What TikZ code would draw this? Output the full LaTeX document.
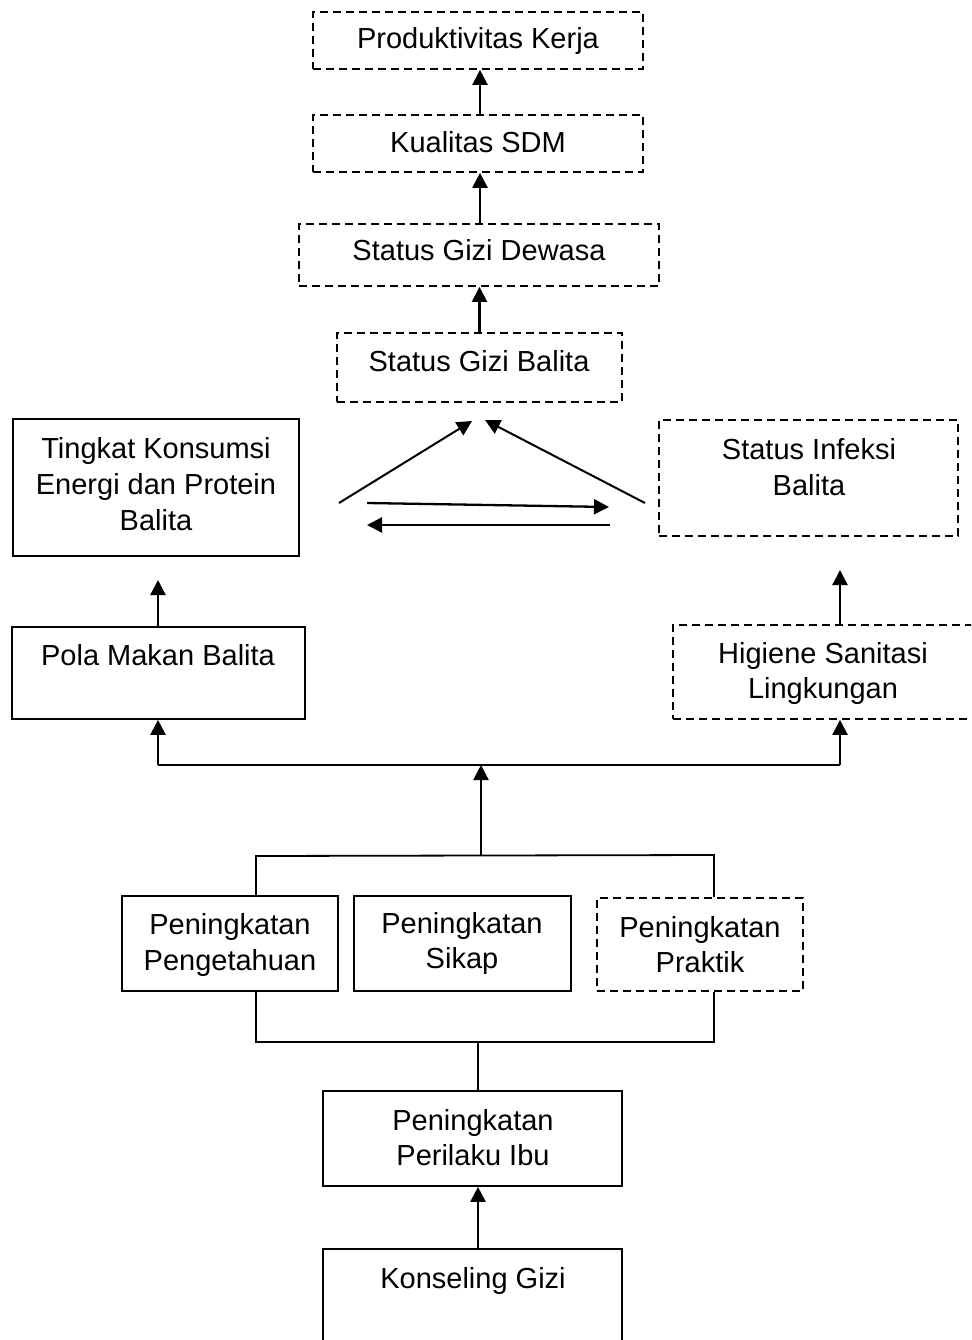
\documentclass[tikz,border=0pt]{standalone}
\usepackage{fontspec}
\setmainfont{Liberation Sans}
\usetikzlibrary{arrows.meta}
\begin{document}
\begin{tikzpicture}[x=1pt,y=-1pt,
  box/.style={draw, line width=1.7pt, rectangle, inner sep=0pt},
  dbox/.style={box, dash pattern=on 8pt off 5pt},
  txt/.style={anchor=base, align=center, inner sep=0pt, font=\fontsize{29pt}{36pt}\selectfont},
  arr/.style={line width=2.3pt, -{Triangle[length=15pt,width=15pt]}},
  ln/.style={line width=1.8pt}]
\useasboundingbox (0,0) rectangle (971,1340);
\clip (0,0) rectangle (971,1340);
% boxes
\node[dbox, minimum width=330pt, minimum height=57pt] (pk) at (478,40.5) {};
\node[dbox, minimum width=330pt, minimum height=57pt] (kq) at (478,143.5) {};
\node[dbox, minimum width=360pt, minimum height=62pt] (sgd) at (479,255) {};
\node[dbox, minimum width=285pt, minimum height=69pt] (sgb) at (479.5,367.5) {};
\node[box, minimum width=286pt, minimum height=137pt] (tk) at (156,487.5) {};
\node[dbox, minimum width=299pt, minimum height=116pt] (si) at (808.5,478) {};
\node[box, minimum width=293pt, minimum height=92pt] (pm) at (158.5,673) {};
\node[dbox, minimum width=337pt, minimum height=94pt] (hs) at (841.5,672) {};
\node[box, minimum width=216pt, minimum height=95pt] (pp) at (230,943.5) {};
\node[box, minimum width=217pt, minimum height=95pt] (ps) at (462.5,943.5) {};
\node[dbox, minimum width=206pt, minimum height=93pt] (pr) at (700,944.5) {};
\node[box, minimum width=299pt, minimum height=95pt] (pi) at (472.5,1138.5) {};
\node[box, minimum width=299pt, minimum height=111pt] (kg) at (472.5,1304.5) {};
% texts (multi-line: anchor base = last line)
\node[txt] (pkt) at (478,49) {Produktivitas Kerja};
\node[txt] (kqt) at (478,153) {Kualitas SDM};
\node[txt] (sgdt) at (479,260) {Status Gizi Dewasa};
\node[txt] (sgbt) at (479,371) {Status Gizi Balita};
\node[txt] (tkt) at (156,530) {Tingkat Konsumsi\\Energi dan Protein\\Balita};
\node[txt] (sit) at (809,495) {Status Infeksi\\Balita};
\node[txt] (pmt) at (158,665) {Pola Makan Balita};
\node[txt, font=\fontsize{29pt}{35pt}\selectfont] (hst) at (823,698) {Higiene Sanitasi\\Lingkungan};
\node[txt] (ppt) at (230,970) {Peningkatan\\Pengetahuan};
\node[txt, font=\fontsize{29pt}{35pt}\selectfont] (pst) at (462,968) {Peningkatan\\Sikap};
\node[txt, font=\fontsize{29pt}{35pt}\selectfont] (prt) at (700,972) {Peningkatan\\Praktik};
\node[txt, font=\fontsize{29pt}{35pt}\selectfont] (pit) at (473,1165) {Peningkatan\\Perilaku Ibu};
\node[txt] (kgt) at (473,1288) {Konseling Gizi};
% coordinates
\coordinate (dl1) at (339,503);
\coordinate (dl2) at (472,421);
\coordinate (dr1) at (645,503);
\coordinate (dr2) at (485,420);
\coordinate (h1) at (367,503);
\coordinate (h2) at (609,507);
\coordinate (h3) at (610,525);
\coordinate (h4) at (367,525);
\coordinate (tkin) at (158,580);
\coordinate (sin) at (840,570);
\coordinate (j) at (481,765);
\coordinate (bt) at (481,855);
\coordinate (bl) at (256,856);
\coordinate (br) at (714,855);
\coordinate (cl) at (256,1042);
\coordinate (cr) at (714,1042);
\coordinate (cm) at (478,1042);
% top chain
\draw[arr] ([xshift=2pt]kq.north) -- ([xshift=2pt]pk.south);
\draw[arr] ([xshift=1pt]sgd.north) -- ([xshift=1pt]kq.south -| sgd.north);
\draw[arr] (sgb.north) -- (sgd.south -| sgb.north);
% middle
\draw[line width=2pt, -{Triangle[length=15pt,width=15pt]}] (dl1) -- (dl2);
\draw[line width=2pt, -{Triangle[length=15pt,width=15pt]}] (dr1) -- (dr2);
\draw[arr] (h1) -- (h2);
\draw[arr] (h3) -- (h4);
\draw[arr] (pm.north -| tkin) -- (tkin);
\draw[arr] (hs.north -| sin) -- (sin);
% tree
\draw[ln] (j -| tkin) -- (j -| sin);
\draw[arr] (j -| tkin) -- (pm.south -| tkin);
\draw[arr] (j -| sin) -- (hs.south -| sin);
\draw[arr] (bt) -- (j);
\draw[ln] (pp.north -| bl) -- (bl) -- (br) -- (pr.north -| br);
\draw[ln] (pp.south -| cl) -- (cl) -- (cr) -- (pr.south -| cr);
\draw[ln] (cm) -- (pi.north -| cm);
\draw[arr] (kg.north -| cm) -- (pi.south -| cm);
\end{tikzpicture}
\end{document}
